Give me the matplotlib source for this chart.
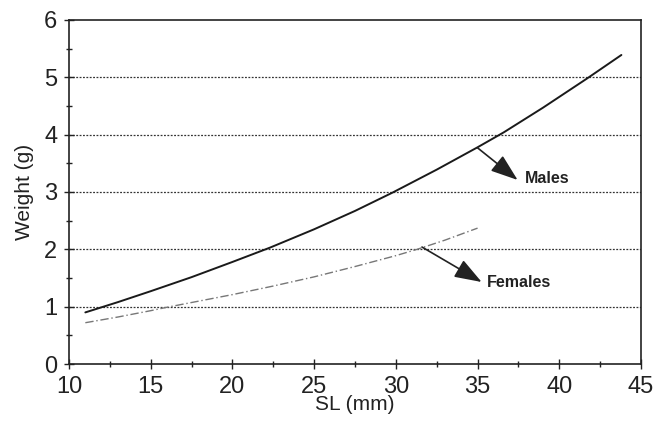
import numpy as np
import matplotlib.pyplot as plt
from matplotlib.ticker import MultipleLocator

plt.rcParams['font.family'] = ['Liberation Sans', 'DejaVu Sans']

# length (mm) vs weight (g)
males_sl = [11, 13, 15, 17.5, 20, 22.3, 25, 27.5, 29.8, 32.5, 35, 36.6, 39, 41.7, 43.8]
males_w = [0.9, 1.08, 1.27, 1.515, 1.78, 2.03, 2.35, 2.67, 2.99, 3.39, 3.78, 4.04, 4.47, 4.98, 5.39]
females_sl = [11, 13, 15, 16, 18, 20, 22.5, 25, 27.5, 30, 31.3, 33, 35]
females_w = [0.72, 0.82, 0.93, 0.99, 1.1, 1.21, 1.36, 1.52, 1.7, 1.89, 2.0, 2.16, 2.37]

# label arrows: (start on curve) -> (tip), and text anchor
labels = ['Males', 'Females']
arrow_from = [(35.0, 3.77), (31.6, 2.04)]
arrow_to = [(37.45, 3.21), (35.25, 1.43)]
text_at = [(37.9, 3.23), (35.58, 1.43)]

fig = plt.figure(figsize=(6.53, 4.40), dpi=100)
ax = fig.add_axes([69 / 653, 1 - 364 / 440, (641 - 69) / 653, (364 - 20) / 440])

ax.plot(males_sl, males_w, color='#1a1a1a', lw=1.4, solid_capstyle='round')
ax.plot(females_sl, females_w, color='#777777', lw=1.0, linestyle=(0, (6, 2, 1, 2)))

for y in range(1, 6):
    ax.axhline(y, color='#333333', lw=0.9, linestyle=(0, (1.5, 1.2)), zorder=0)

ax.set_xlim(10, 45)
ax.set_ylim(0, 6)
ax.xaxis.set_major_locator(MultipleLocator(5))
ax.xaxis.set_minor_locator(MultipleLocator(2.5))
ax.yaxis.set_major_locator(MultipleLocator(1))
ax.yaxis.set_minor_locator(MultipleLocator(0.5))
ax.tick_params(which='both', direction='inout', width=1.0, colors='#222222')
ax.tick_params(which='major', length=7, labelsize=17, pad=5)
ax.tick_params(which='minor', length=5)
ax.tick_params(axis='x', which='both', top=False)
ax.tick_params(axis='y', which='both', right=False)
for s in ax.spines.values():
    s.set_color('#222222')
    s.set_linewidth(1.2)

ax.set_xlabel('SL (mm)', fontsize=15, color='#222222')
ax.set_ylabel('Weight (g)', fontsize=15, color='#222222')
ax.xaxis.set_label_coords(0.5, -0.118)
ax.yaxis.set_label_coords(-0.077, 0.5)
ax.xaxis.label.set_va('center')
ax.yaxis.label.set_va('center')

for lab, p0, p1, pt in zip(labels, arrow_from, arrow_to, text_at):
    ax.annotate('', xy=p1, xytext=p0,
                arrowprops=dict(arrowstyle='-|>,head_length=1.4,head_width=0.5',
                                color='#222222', lw=1.2, shrinkA=0, shrinkB=0,
                                mutation_scale=12))
    ax.text(pt[0], pt[1], lab, fontsize=11.5, fontweight='bold', color='#222222',
            ha='left', va='center')

fig.savefig('out.png', dpi=100)
